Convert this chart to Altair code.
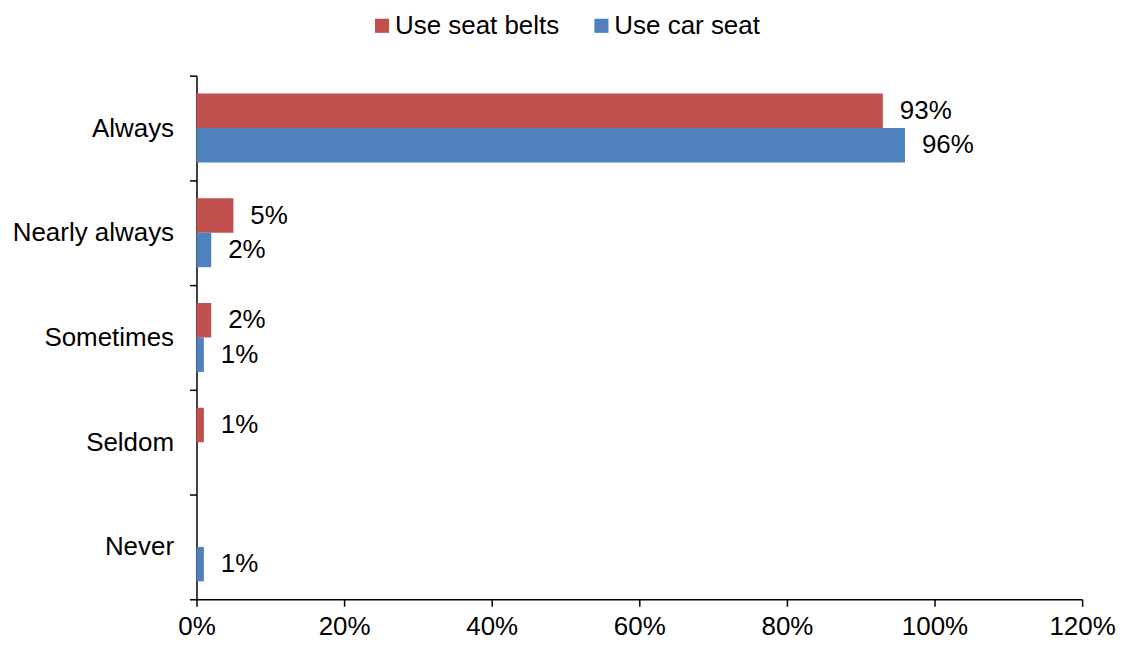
import altair as alt
import pandas as pd

categories = ["Always", "Nearly always", "Sometimes", "Seldom", "Never"]
series = ["Use seat belts", "Use car seat"]
seat_belts = [93, 5, 2, 1, None]
car_seat = [96, 2, 1, None, 1]
x_ticks = [0, 20, 40, 60, 80, 100, 120]
colors = ["#C0504D", "#4F81BD"]

rows = []
for name, vals in zip(series, [seat_belts, car_seat]):
    for c, v in zip(categories, vals):
        if v is not None:
            rows.append({"category": c, "series": name, "value": v, "label": f"{v}%"})
df = pd.DataFrame(rows)

FONT = "Liberation Sans"
FS = 26

y_enc = alt.Y(
    "category:N",
    sort=categories,
    title=None,
    scale=alt.Scale(paddingInner=0, paddingOuter=0),
    axis=alt.Axis(
        tickBand="extent", tickSize=7, tickColor="black", domainColor="black",
        labelFontSize=FS, labelFont=FONT, labelColor="black", labelPadding=16,
        domainWidth=1.5, tickWidth=1.5,
    ),
)
yoff = alt.YOffset(
    "series:N", sort=series,
    scale=alt.Scale(domain=series, paddingInner=0, paddingOuter=0.52),
)
x_enc = alt.X(
    "value:Q",
    title=None,
    scale=alt.Scale(domain=[0, 120], nice=False),
    axis=alt.Axis(
        values=x_ticks, grid=False, labelExpr="datum.value + '%'",
        tickSize=7, tickColor="black", domainColor="black",
        labelFontSize=FS, labelFont=FONT, labelColor="black", labelPadding=7,
        labelFlush=False, labelOverlap=False,
        domainWidth=1.5, tickWidth=1.5,
    ),
)
color_enc = alt.Color(
    "series:N",
    scale=alt.Scale(domain=series, range=colors),
    legend=alt.Legend(
        title=None, orient="none", direction="horizontal", legendX=173, legendY=-63,
        symbolType="square", symbolSize=200, symbolStrokeWidth=0, symbolOpacity=1,
        labelFontSize=FS, labelFont=FONT, labelColor="black", columnPadding=29,
        labelOffset=0, labelLimit=0,
    ),
)

bars = alt.Chart(df).mark_bar(opacity=1).encode(
    y=y_enc, yOffset=yoff, x=x_enc, color=color_enc
)
labels = alt.Chart(df).mark_text(
    align="left", baseline="middle", dx=17, fontSize=FS, font=FONT, color="black"
).encode(y=alt.Y("category:N", sort=categories), yOffset=yoff, x="value:Q", text="label:N")

chart = (
    alt.layer(bars, labels)
    .properties(
        width=888, height=525,
        autosize=alt.AutoSizeParams(type="none"),
        padding={"left": 189, "top": 67, "right": 40, "bottom": 46},
    )
    .configure_view(stroke=None)
)
chart.save("out.html", embed_options={"renderer": "svg", "actions": False})
